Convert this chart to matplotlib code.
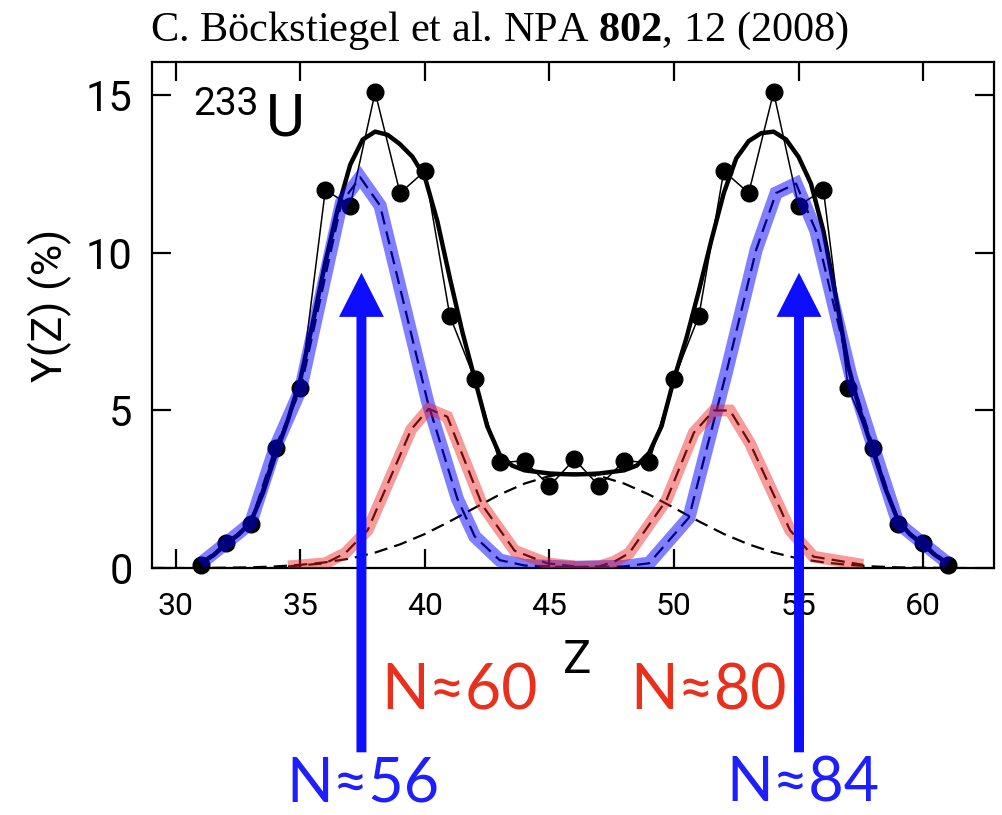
import matplotlib
matplotlib.use("Agg")
import matplotlib.pyplot as plt
from matplotlib.patches import FancyArrow

# ---------------- data ----------------
# measured yields (dots)
z_data = list(range(31, 62))
y_data = [0.1, 0.8, 1.4, 3.8, 5.7, 12.0, 11.5, 15.1, 11.9, 12.6, 8.0, 6.0, 3.35, 3.4,
          2.6, 3.45, 2.6, 3.4, 3.35, 6.0, 8.0, 12.6, 11.9, 15.1, 11.5, 12.0, 5.7, 3.8,
          1.4, 0.8, 0.1]

# smooth total fit (thick black)
z_fit = [31.0, 31.5, 32.0, 32.5, 33.0, 33.5, 34.0, 34.5, 35.0, 35.5, 36.0, 36.5, 37.0,
         37.5, 38.0, 38.5, 39.0, 39.5, 40.0, 40.5, 41.0, 41.5, 42.0, 42.5, 43.0, 43.5,
         44.0, 44.5, 45.0, 45.5, 46.0, 46.5, 47.0, 47.5, 48.0, 48.5, 49.0, 49.5, 50.0,
         50.5, 51.0, 51.5, 52.0, 52.5, 53.0, 53.5, 54.0, 54.5, 55.0, 55.5, 56.0, 56.5,
         57.0, 57.5, 58.0, 58.5, 59.0, 59.5, 60.0, 60.5, 61.0]
y_fit = [0.15, 0.4, 0.75, 1.05, 1.45, 2.4, 3.6, 4.7, 6.0, 7.8, 9.7, 11.4, 12.8,
         13.6, 13.85, 13.75, 13.45, 13.05, 12.4, 11.0, 9.2, 7.5, 6.0, 4.5, 3.6, 3.25,
         3.1, 3.05, 3.0, 2.98, 2.97, 2.98, 3.0, 3.05, 3.1, 3.25, 3.65, 4.5, 6.0,
         7.3, 8.8, 10.4, 11.9, 13.0, 13.55, 13.8, 13.85, 13.6, 13.05, 12.2, 10.7, 8.6,
         6.4, 4.9, 3.7, 2.5, 1.5, 1.05, 0.75, 0.4, 0.15]

# broad symmetric component (dashed black)
z_sym = list(range(29, 63))
y_sym = [0.0, 0.0, 0.0, 0.01, 0.02, 0.05, 0.1, 0.18, 0.3, 0.49, 0.75, 1.08, 1.48, 1.91,
         2.33, 2.68, 2.92, 3.0, 2.92, 2.68, 2.33, 1.91, 1.48, 1.08, 0.75, 0.49, 0.3,
         0.18, 0.1, 0.05, 0.02, 0.01, 0.0, 0.0]

# blue component (N~56 / N~84)
z_blue = [31.0, 32.0, 33.0, 34.0, 35.0, 36.65, 37.4, 38.2, 40.1, 41.3, 42.0, 43.0, 44.0,
          46.0, 48.0, 49.0, 50.6, 52.1, 53.3, 54.1, 54.9, 55.7, 57.1, 58.0, 59.0, 60.0, 61.0]
y_blue = [0.15, 0.78, 1.42, 3.85, 5.65, 11.6, 12.4, 11.5, 5.3, 2.2, 1.0, 0.25, 0.08,
          0.02, 0.05, 0.15, 1.6, 6.2, 10.1, 11.9, 12.2, 10.7, 6.1, 3.85, 1.42, 0.78, 0.15]

# red components (N~60 / N~80)
z_red1 = [34.5, 36.0, 36.8, 37.7, 39.45, 40.15, 40.9, 42.3, 43.6, 44.9, 46.0]
y_red1 = [0.05, 0.15, 0.47, 1.2, 4.4, 5.05, 4.8, 2.0, 0.55, 0.15, 0.05]
z_red2 = [46.0, 47.0, 47.6, 48.2, 49.7, 50.8, 51.6, 52.25, 53.05, 54.66, 55.6, 57.6]
y_red2 = [0.03, 0.05, 0.2, 0.47, 2.16, 4.3, 5.0, 5.0, 3.96, 1.2, 0.36, 0.1]

# arrows (Z position, tail, tip)
arrow_z = [37.45, 55.02]
arrow_tail = -5.85
arrow_tip = 9.37

x_ticks = [30, 35, 40, 45, 50, 55, 60]
y_ticks = [0, 5, 10, 15]

# ---------------- figure ----------------
W, H = 1003, 815
fig = plt.figure(figsize=(W / 100, H / 100), dpi=100)
plt.rcParams['mathtext.fontset'] = 'custom'
plt.rcParams['mathtext.rm'] = 'Liberation Serif'
plt.rcParams['mathtext.bf'] = 'Liberation Serif:bold'

def fx(px):
    return px / W

def fy(py):
    return 1 - py / H

ax = fig.add_axes([fx(152), fy(568), (994 - 152) / W, (568 - 62) / H])
ax.set_xlim(29.04, 62.85)
ax.set_ylim(0, 16.06)

dash = (0, (6, 3.2))
# dashed black components
ax.plot(z_sym, y_sym, color='black', lw=1.6, linestyle=dash, zorder=2)
ax.plot(z_blue, y_blue, color='black', lw=1.6, linestyle=dash, zorder=2)
ax.plot(z_red1, y_red1, color='black', lw=1.6, linestyle=dash, zorder=2)
ax.plot(z_red2, y_red2, color='black', lw=1.6, linestyle=dash, zorder=2)

# total fit and data
ax.plot(z_fit, y_fit, color='black', lw=3.2, zorder=3, solid_capstyle='round')
ax.plot(z_data, y_data, color='black', lw=1.1, marker='o', markersize=12,
        zorder=4, clip_on=False)

# translucent overlays
ax.plot(z_blue, y_blue, color='blue', alpha=0.5, lw=9.5, zorder=5,
        solid_joinstyle='miter', solid_capstyle='butt')
ax.plot(z_red1, y_red1, color=(0.93, 0.12, 0.12), alpha=0.45, lw=8.5, zorder=6,
        solid_joinstyle='miter', solid_capstyle='butt')
ax.plot(z_red2, y_red2, color=(0.93, 0.12, 0.12), alpha=0.45, lw=8.5, zorder=6,
        solid_joinstyle='miter', solid_capstyle='butt')

# arrows
for za in arrow_z:
    ar = FancyArrow(za, arrow_tail, 0, arrow_tip - arrow_tail, width=0.4,
                    head_width=1.8, head_length=1.4, length_includes_head=True,
                    color=(0.05, 0.05, 1.0), lw=0, zorder=10, clip_on=False)
    ax.add_patch(ar)

# axes styling
tick_font = ['Roboto', 'DejaVu Sans']
ax.set_xticks(x_ticks)
ax.set_yticks(y_ticks)
ax.set_xticklabels([str(t) for t in x_ticks], family=tick_font, fontsize=23)
ax.set_yticklabels([str(t) for t in y_ticks], family=tick_font, fontsize=30)
ax.tick_params(axis='both', which='major', direction='in', length=14, width=1.6,
               top=True, right=True, colors='black')
ax.tick_params(axis='x', pad=17)
ax.tick_params(axis='y', pad=14)
for s in ax.spines.values():
    s.set_linewidth(1.6)

# texts
fig.text(fx(50), fy(305), 'Y(Z) (%)', rotation=90, ha='center', va='center',
         family=tick_font, fontsize=31)
fig.text(fx(577), fy(673), 'Z', ha='center', va='baseline', family=tick_font, fontsize=34)
fig.text(fx(193), fy(115), '233', ha='left', va='baseline', family=tick_font, fontsize=28)
fig.text(fx(266), fy(136), 'U', ha='left', va='baseline', family=tick_font, fontsize=43)

fig.text(fx(150), fy(41), r'C. Böckstiegel et al. NPA $\mathbf{802}$, 12 (2008)',
         ha='left', va='baseline', family='Liberation Serif', fontsize=30.5)

lab_font = ['Lato', 'DejaVu Sans']
red_c = '#e8301c'
blue_c = '#1e1eff'
fig.text(fx(460), fy(710), 'N≈60', ha='center', va='baseline', family=lab_font,
         fontsize=45, color=red_c)
fig.text(fx(709), fy(710), 'N≈80', ha='center', va='baseline', family=lab_font,
         fontsize=45, color=red_c)
fig.text(fx(363), fy(802), 'N≈56', ha='center', va='baseline', family=lab_font,
         fontsize=44, color=blue_c)
fig.text(fx(803), fy(802), 'N≈84', ha='center', va='baseline', family=lab_font,
         fontsize=44, color=blue_c)

fig.savefig('out.png', dpi=100)
